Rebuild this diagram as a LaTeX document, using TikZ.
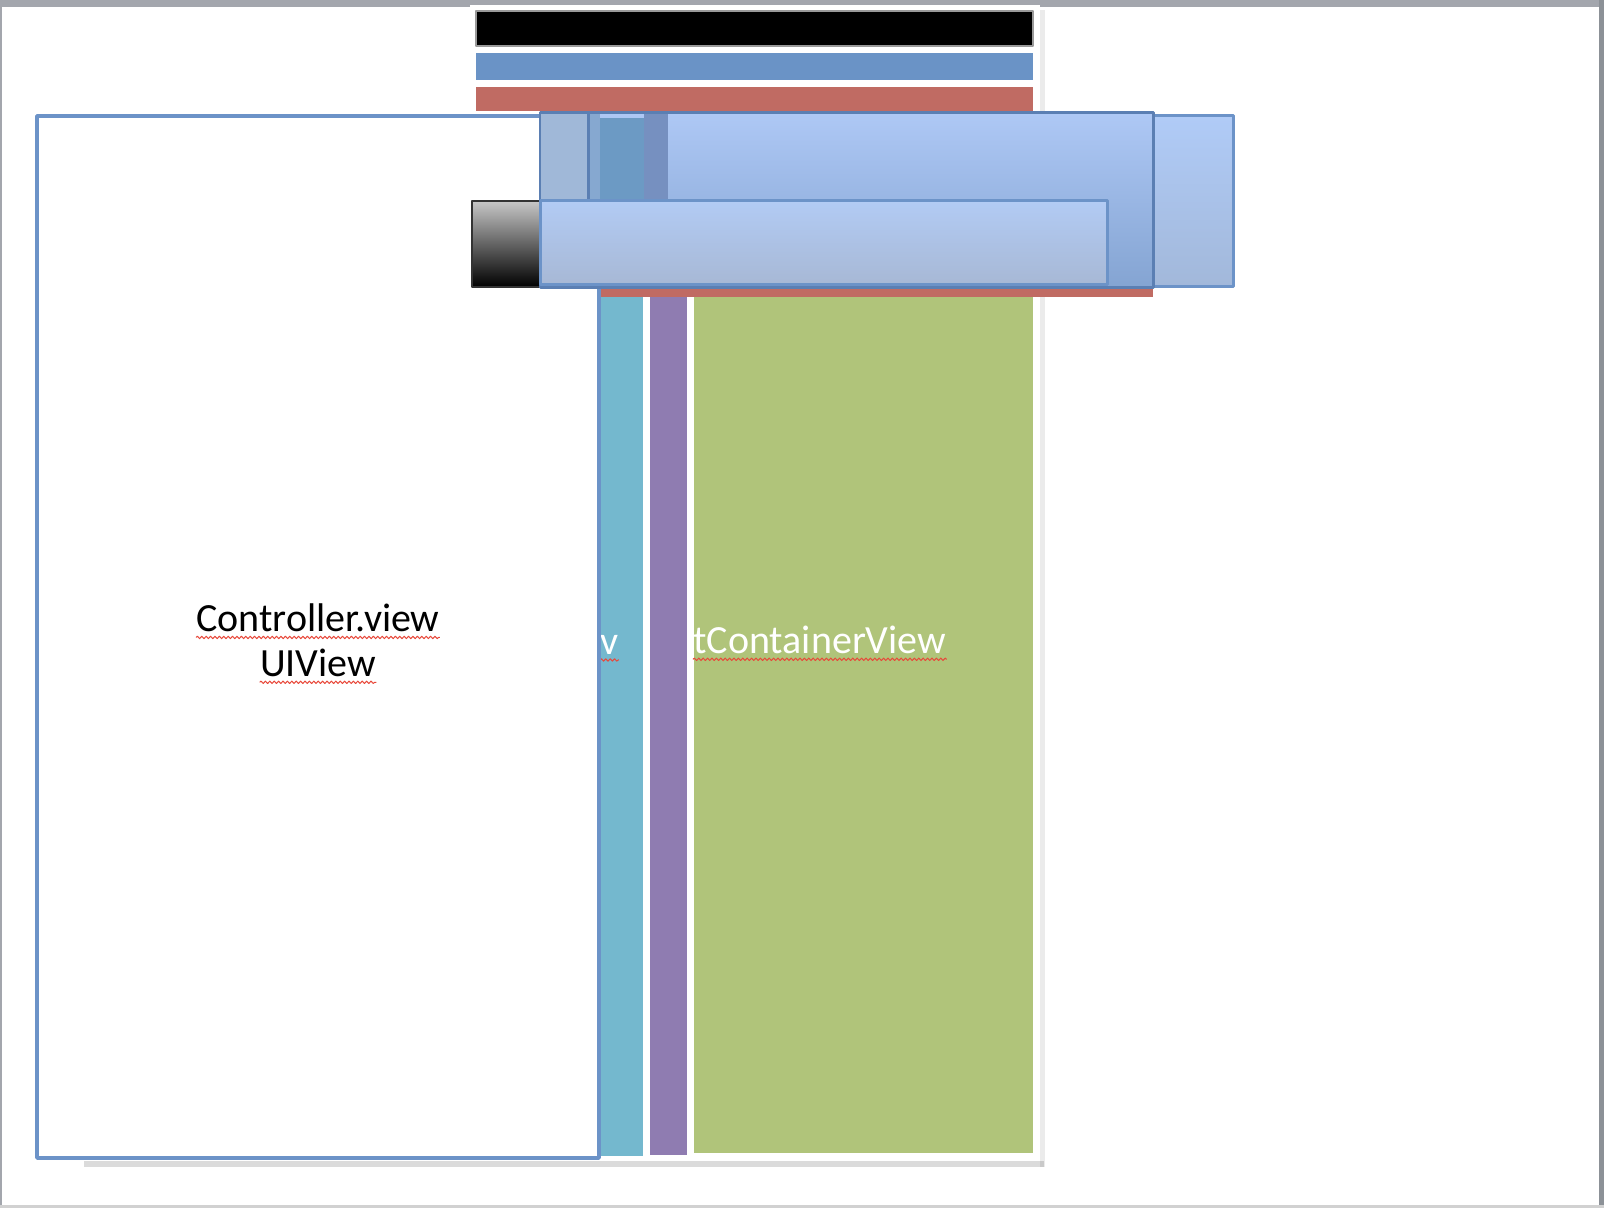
\documentclass[tikz,border=0pt]{standalone}
\usepackage{fontspec}
\setmainfont{Carlito}
\usetikzlibrary{decorations.pathmorphing}
\definecolor{frameGray}{HTML}{A3A6AD}
\definecolor{frameDark}{HTML}{8C9197}
\definecolor{barEdge}{HTML}{9A9A9A}
\definecolor{barBlue}{HTML}{6A93C6}
\definecolor{barRed}{HTML}{C06B63}
\definecolor{viewCyan}{HTML}{74B8CE}
\definecolor{viewPurple}{HTML}{8F7CB1}
\definecolor{viewGreen}{HTML}{B0C47A}
\definecolor{cvBorder}{HTML}{6C93C8}
\definecolor{navEdge}{HTML}{5B7FB3}
\definecolor{navTop}{HTML}{AEC8F5}
\definecolor{navBottom}{HTML}{84A4D2}
\definecolor{lightTop}{HTML}{B0CBF7}
\definecolor{lightBottom}{HTML}{A2B8DA}
\definecolor{lowTop}{HTML}{B2CBF4}
\definecolor{lowBottom}{HTML}{A7B8D5}
\definecolor{colWhite}{HTML}{A0B8D8}
\definecolor{colMid}{HTML}{86A8D0}
\definecolor{colCyan}{HTML}{6C9AC4}
\definecolor{colPurple}{HTML}{7690C0}
\definecolor{spellRed}{HTML}{E8483A}
\tikzset{
  viewtext/.style={font=\fontsize{20}{22.5}\selectfont, inner sep=0pt},
  squiggle/.style={draw=spellRed, line width=0.5pt, decorate,
    decoration={snake, amplitude=0.6pt, segment length=2.2pt}},
  navbox/.style={draw=navEdge, line width=1.5pt},
}
\begin{document}
\begin{tikzpicture}[x=0.5pt, y=-0.5pt, line join=round]
\useasboundingbox (0,0) rectangle (1604,1208);
% window frame
\fill[white] (0,0) rectangle (1604,1208);
\fill[frameGray] (0,0) rectangle (1604,7);
\fill[frameGray] (0,0) rectangle (2,1208);
\fill[frameDark] (1599,0) rectangle (1604,1208);
\fill[black!18] (0,1205) rectangle (1604,1208);
% shadows
\fill[black, opacity=.14] (84,1161) rectangle (1044,1167);
\fill[black, opacity=.08] (1040,10) rectangle (1045,1167);
% back screen with its bars
\fill[white] (470,5) rectangle (1040,1161);
\draw[barEdge, fill=black, line width=1pt] (476,11) rectangle (1033,46);
\fill[barBlue] (476,53) rectangle (1033,80);
\fill[barRed] (476,87) rectangle (1033,111);
\fill[viewGreen] (694,297) rectangle (1033,1153);
% purple and cyan screens
\fill[white] (600,292) rectangle (693,1159);
\fill[viewPurple] (650,296) rectangle (687,1155);
\fill[white] (82,118) rectangle (650,1161);
\fill[viewCyan] (588,120) rectangle (643,1156);
\fill[barRed] (588,287) rectangle (1153,297);
% labels of the covered screens
\node[viewtext, text=white, anchor=west] (cyanname) at (600,645) {v};
\node[viewtext, text=white, anchor=west] (greenname) at (693,640) {tContainerView};
\draw[squiggle] ([yshift=-2.5pt]cyanname.south west) -- ([yshift=-2.5pt]cyanname.south east);
\draw[squiggle] ([yshift=-2.5pt]greenname.south west) -- ([yshift=-2.5pt]greenname.south east);
% controller view
\draw[cvBorder, line width=1.8pt, fill=white] (37,116) rectangle (599,1158);
\node[viewtext] (cvname) at (318,618) {Controller.view};
\node[viewtext] (cvclass) at (318,663) {UIView};
\draw[squiggle] ([yshift=-2.5pt]cvname.south west) -- ([yshift=-2.5pt]cvname.south east);
\draw[squiggle] ([yshift=-2.5pt]cvclass.south west) -- ([yshift=-2.5pt]cvclass.south east);
% gradient button
\draw[black!80, line width=1pt, top color=black!22, bottom color=black] (472,201) rectangle (540,287);
% navigation bars
\draw[draw=cvBorder, line width=1.5pt, top color=lightTop, bottom color=lightBottom] (1107,116) rectangle (1233,287);
\draw[navbox, top color=navTop, bottom color=navBottom] (540,113) rectangle (1153,288);
\fill[colWhite] (541,114) rectangle (588,201);
\fill[colMid] (588,114) rectangle (600,201);
\fill[colCyan] (600,118) rectangle (644,201);
\fill[colPurple] (644,114) rectangle (668,201);
\draw[navEdge, line width=1.5pt] (588,113) -- (588,201);
\draw[navbox, line width=1pt] (540,113) -- (1153,113);
\draw[draw=cvBorder, line width=1.5pt, top color=lowTop, bottom color=lowBottom] (540,201) rectangle (1107,285);
\end{tikzpicture}
\end{document}
